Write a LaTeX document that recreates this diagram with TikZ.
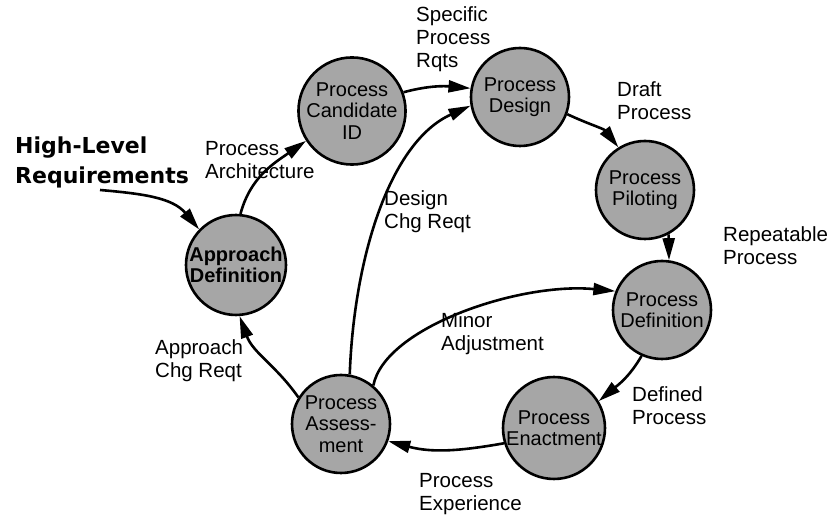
\documentclass[tikz,border=0pt]{standalone}
\usepackage{fontspec}
\setmainfont{Liberation Sans}
\newfontfamily\hlfont{DejaVu Sans}
\usetikzlibrary{arrows.meta}
\begin{document}
\begin{tikzpicture}[x=1bp,y=1bp,
  proc/.style={circle,draw=black,line width=2.6bp,fill=black!35,minimum size=98bp,inner sep=0pt,align=center,font=\fontsize{20bp}{21.5bp}\selectfont},
  lbl/.style={align=left,anchor=west,inner sep=0pt,font=\fontsize{20.5bp}{23bp}\selectfont},
  flow/.style={line width=2.6bp,-{Triangle[length=22bp,width=12bp]}}]
\useasboundingbox (0,0) rectangle (831,517);
% process circles
\node[proc] (cand) at (352,406) {Process\\Candidate\\ID};
\node[proc] (des)  at (520,420) {Process\\Design};
\node[proc] (pil)  at (645,327) {Process\\Piloting};
\node[proc] (def)  at (662,207) {Process\\Definition};
\node[proc] (enc)  at (554,89)  {Process\\Enactment};
\node[proc] (ass)  at (341,93)  {Process\\Assess-\\ment};
\node[proc,font=\fontsize{20bp}{21.5bp}\selectfont\bfseries] (app) at (236,252) {Approach\\Definition};
% labels
\node[align=left,anchor=west,inner sep=0pt,font=\hlfont\bfseries\fontsize{22bp}{30bp}\selectfont] (hlr) at (15,355) {High-Level\\Requirements};
\node[lbl] (l1) at (416,478) {Specific\\Process\\Rqts};
\node[lbl] (l2) at (617,416) {Draft\\Process};
\node[lbl] (l3) at (723,271) {Repeatable\\Process};
\node[lbl] (l4) at (205,357) {Process\\Architecture};
\node[lbl] (l5) at (384,305) {Design\\Chg Reqt};
\node[lbl] (l6) at (441,183) {Minor\\Adjustment};
\node[lbl] (l7) at (155,156) {Approach\\Chg Reqt};
\node[lbl] (l8) at (632,111) {Defined\\Process};
\node[lbl] (l9) at (419,23)  {Process\\Experience};
\coordinate (hl) at (100,327);
% connectors
\draw[flow] (hl) to[out=-5,in=130] (app.136);
\draw[flow] (app.85) to[out=75,in=215] (cand.213);
\draw[flow] (cand.20) to[out=15,in=175] (des.170);
\draw[flow] (ass.80) .. controls (354,260) and (390,375) .. (des.190);
\draw[flow] (des.-20) to[out=-25,in=128] (pil.122);
\draw[flow] (pil.-62) -- (def.82);
\draw[flow] (ass.50) .. controls (385,190) and (520,235) .. (def.158);
\draw[flow] (def.-114) to[out=-120,in=40] (enc.31);
\draw[flow] (enc.197) to[out=190,in=-15] (ass.-20);
\draw[flow] (ass.148) to[out=125,in=-70] (app.-86);
\end{tikzpicture}
\end{document}
